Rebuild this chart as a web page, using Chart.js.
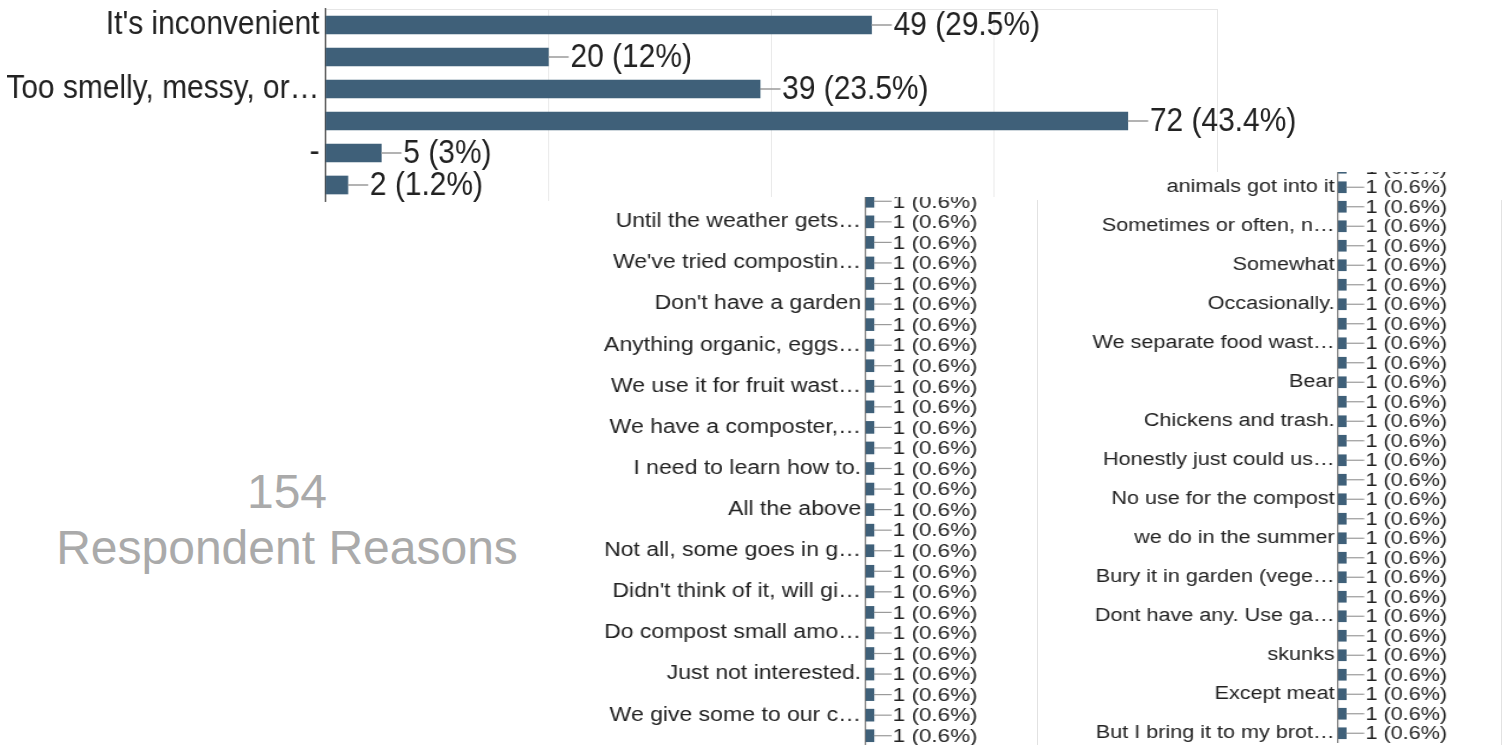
<!DOCTYPE html>
<html>
<head>
<meta charset="utf-8">
<script src="https://cdn.jsdelivr.net/npm/chart.js@4.4.1/dist/chart.umd.min.js"></script>
<style>
  html, body { margin: 0; padding: 0; background: #fff; }
  body { width: 1504px; height: 745px; position: relative; overflow: hidden; font-family: 'Liberation Sans', Arial, sans-serif; }
  .clip { position: absolute; overflow: hidden; background: #fff; }
  .stretch { position: absolute; transform-origin: 0 0; }
  .total { position: absolute; left: 0; width: 574px; text-align: center; color: #aaa; font-size: 48px; line-height: 56px; }
</style>
</head>
<body>

<div class="clip" style="left:0;top:0;width:1504px;height:205px;">
  <div class="stretch" style="left:0;top:0;width:1709px;height:205px;transform:scaleX(0.88);"><canvas id="topChart"></canvas></div>
</div>

<div class="total" style="top:464px;">154</div>
<div class="total" style="top:520px;">Respondent Reasons</div>

<div class="clip" style="left:585px;top:197px;width:452px;height:548px;">
  <div class="stretch" style="left:0;top:-6px;width:383px;height:555px;transform:scaleX(1.18);"><canvas id="leftChart"></canvas></div>
</div>

<div class="clip" style="left:1037px;top:172px;width:467px;height:573px;">
  <div class="stretch" style="left:0;top:-14px;width:389px;height:585px;transform:scaleX(1.2);"><canvas id="rightChart"></canvas></div>
  <div style="position:absolute;left:0;top:28px;width:463px;height:545px;border-left:1px solid #e2e2e2;border-right:1px solid #e2e2e2;"></div>
</div>

<script>
// top chart - main reasons
const topCategories = ["It's inconvenient", "", "Too smelly, messy, or\u2026", "", "-", ""];
const topCounts = [49, 20, 39, 72, 5, 2];
const topPercents = ["29.5%", "12%", "23.5%", "43.4%", "3%", "1.2%"];

// lower left slice of the long tail
const leftCategories = ["", "Until the weather gets\u2026", "", "We've tried compostin\u2026", "", "Don't have a garden", "",
  "Anything organic, eggs\u2026", "", "We use it for fruit wast\u2026", "", "We have a composter,\u2026", "",
  "I need to learn how to.", "", "All the above", "", "Not all, some goes in g\u2026", "",
  "Didn't think of it, will gi\u2026", "", "Do compost small amo\u2026", "", "Just not interested.", "",
  "We give some to our c\u2026", ""];
const leftCounts = [1, 1, 1, 1, 1, 1, 1, 1, 1, 1, 1, 1, 1, 1, 1, 1, 1, 1, 1, 1, 1, 1, 1, 1, 1, 1, 1];
const leftPercents = ["0.6%", "0.6%", "0.6%", "0.6%", "0.6%", "0.6%", "0.6%", "0.6%", "0.6%", "0.6%", "0.6%", "0.6%", "0.6%", "0.6%",
  "0.6%", "0.6%", "0.6%", "0.6%", "0.6%", "0.6%", "0.6%", "0.6%", "0.6%", "0.6%", "0.6%", "0.6%", "0.6%"];

// lower right slice
const rightCategories = ["", "animals got into it", "", "Sometimes or often, n\u2026", "", "Somewhat", "", "Occasionally.", "",
  "We separate food wast\u2026", "", "Bear", "", "Chickens and trash.", "", "Honestly just could us\u2026", "",
  "No use for the compost", "", "we do in the summer", "", "Bury it in garden (vege\u2026", "",
  "Dont have any. Use ga\u2026", "", "skunks", "", "Except meat", "", "But I bring it to my brot\u2026"];
const rightCounts = [1, 1, 1, 1, 1, 1, 1, 1, 1, 1, 1, 1, 1, 1, 1, 1, 1, 1, 1, 1, 1, 1, 1, 1, 1, 1, 1, 1, 1, 1];
const rightPercents = ["0.6%", "0.6%", "0.6%", "0.6%", "0.6%", "0.6%", "0.6%", "0.6%", "0.6%", "0.6%", "0.6%", "0.6%", "0.6%", "0.6%", "0.6%",
  "0.6%", "0.6%", "0.6%", "0.6%", "0.6%", "0.6%", "0.6%", "0.6%", "0.6%", "0.6%", "0.6%", "0.6%", "0.6%", "0.6%", "0.6%"];

const barColor = '#3f6079';
const FONT = "'Liberation Sans', Arial, sans-serif";

// draws the little stem + "n (p%)" after every bar
const valueLabels = {
  id: 'valueLabels',
  afterDatasetsDraw(chart, args, opts) {
    const ctx = chart.ctx;
    const meta = chart.getDatasetMeta(0);
    ctx.save();
    ctx.font = opts.font;
    ctx.textAlign = 'left';
    ctx.textBaseline = 'middle';
    meta.data.forEach((bar, i) => {
      ctx.strokeStyle = '#9a9a9a';
      ctx.lineWidth = opts.lineWidth;
      ctx.beginPath();
      ctx.moveTo(bar.x, bar.y);
      ctx.lineTo(bar.x + opts.lineLen, bar.y);
      ctx.stroke();
      ctx.fillStyle = '#222';
      ctx.fillText(opts.texts[i], bar.x + opts.lineLen + opts.gap, bar.y + opts.dy);
    });
    ctx.restore();
  }
};

function makeChart(id, cats, counts, pcts, cfg) {
  const texts = counts.map((v, i) => v + ' (' + pcts[i] + ')');
  return new Chart(document.getElementById(id), {
    type: 'bar',
    data: {
      labels: cats,
      datasets: [{
        data: counts,
        backgroundColor: barColor,
        borderWidth: 0,
        barThickness: cfg.barThickness
      }]
    },
    options: {
      indexAxis: 'y',
      responsive: true,
      maintainAspectRatio: false,
      animation: false,
      layout: { padding: cfg.padding },
      plugins: {
        legend: { display: false },
        tooltip: { enabled: false },
        valueLabels: { texts: texts, font: cfg.valueFont, lineLen: cfg.lineLen, gap: cfg.gap, dy: cfg.dy, lineWidth: cfg.lineWidth }
      },
      scales: {
        x: {
          position: 'top',
          min: 0,
          max: cfg.max,
          ticks: { display: false, stepSize: cfg.step },
          grid: { display: cfg.grid, color: '#e6e6e6', drawTicks: false },
          border: { display: cfg.grid, color: '#e6e6e6' },
          afterFit: s => { s.height = 0; s.paddingLeft = 0; s.paddingRight = 0; }
        },
        y: {
          ticks: { autoSkip: false, color: '#222', font: { family: FONT, size: cfg.labelSize }, padding: cfg.tickPad },
          grid: { display: false, drawTicks: false },
          border: { display: true, color: cfg.axisColor, width: cfg.axisWidth },
          afterFit: s => { s.width = cfg.axisX; s.paddingTop = 0; s.paddingBottom = 0; }
        }
      }
    },
    plugins: [valueLabels]
  });
}

// top chart is drawn wide then squeezed by 0.88 to match the narrow lettering
makeChart('topChart', topCategories, topCounts, topPercents, {
  barThickness: 18, padding: { top: 9, bottom: 4, left: 0, right: 326 },
  valueFont: '34px ' + FONT, labelSize: 34, lineLen: 23, gap: 2, dy: 1, lineWidth: 1.5,
  max: 80, step: 20, grid: true, tickPad: 7, axisColor: '#444', axisWidth: 1.5, axisX: 370
});

makeChart('leftChart', leftCategories, leftCounts, leftPercents, {
  barThickness: 12, padding: { top: 0, bottom: 0, left: 0, right: 9 },
  valueFont: '19px ' + FONT, labelSize: 19.5, lineLen: 15, gap: 1, dy: 1, lineWidth: 1.2,
  max: 20, step: 5, grid: false, tickPad: 4, axisColor: '#777', axisWidth: 1.2, axisX: 238
});

makeChart('rightChart', rightCategories, rightCounts, rightPercents, {
  barThickness: 11, padding: { top: 0, bottom: 0, left: 0, right: 5 },
  valueFont: '18px ' + FONT, labelSize: 18, lineLen: 15, gap: 1, dy: 1, lineWidth: 1.2,
  max: 20, step: 5, grid: false, tickPad: 3, axisColor: '#777', axisWidth: 1.2, axisX: 251
});
</script>
</body>
</html>
